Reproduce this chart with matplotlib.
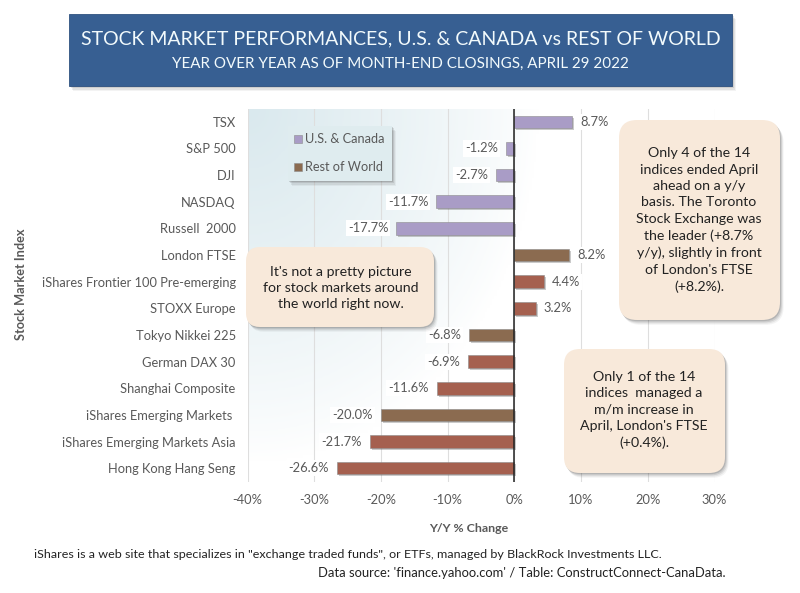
import numpy as np
import matplotlib
matplotlib.use("Agg")
import matplotlib.pyplot as plt
from matplotlib.patches import FancyBboxPatch, Rectangle
from matplotlib.colors import LinearSegmentedColormap
from matplotlib.transforms import Affine2D

plt.rcParams['font.family'] = ['Lato', 'DejaVu Sans']

indices = ["TSX", "S&P 500", "DJI", "NASDAQ", "Russell  2000", "London FTSE",
           "iShares Frontier 100 Pre-emerging", "STOXX Europe", "Tokyo Nikkei 225",
           "German DAX 30", "Shanghai Composite", "iShares Emerging Markets ",
           "iShares Emerging Markets Asia", "Hong Kong Hang Seng"]
yy_change = [8.7, -1.2, -2.7, -11.7, -17.7, 8.2, 4.4, 3.2, -6.8, -6.9, -11.6, -20.0, -21.7, -26.6]
x_ticks = [-40, -30, -20, -10, 0, 10, 20, 30]
title = "STOCK MARKET PERFORMANCES, U.S. & CANADA vs REST OF WORLD"
subtitle = "YEAR OVER YEAR AS OF MONTH-END CLOSINGS, APRIL 29 2022"
note1 = "It's not a pretty picture\nfor stock markets around\nthe world right now."
note2 = ("Only 4 of the 14\nindices ended April\nahead on a y/y\nbasis. The Toronto\nStock Exchange was\n"
         "the leader (+8.7%\ny/y), slightly in front\nof London's FTSE\n(+8.2%).")
note3 = "Only 1 of the 14\nindices  managed a\nm/m increase in\nApril, London's FTSE\n(+0.4%)."
foot1 = "iShares is a web site that specializes in \"exchange traded funds\", or ETFs, managed by BlackRock Investments LLC."
foot2 = "Data source: 'finance.yahoo.com' / Table: ConstructConnect-CanaData."

W, H = 800, 593
US_C, WORLD_C, WORLD_C2 = "#A99CC6", "#A5604F", "#8B6B50"
world_shades = [WORLD_C2, WORLD_C, WORLD_C, WORLD_C2, WORLD_C, WORLD_C, WORLD_C2, WORLD_C, WORLD_C]
colors = [US_C] * 5 + world_shades
TXT = "#595959"
LBL = 9.3

fig = plt.figure(figsize=(W / 100, H / 100), dpi=100, facecolor="white")
pix = Affine2D().scale(1 / W, 1 / H) + fig.transFigure


def fx(x):
    return x / W


def fy(y):
    return 1 - y / H


def rect_ax(x0, y0, x1, y1):
    return [fx(x0), fy(y1), (x1 - x0) / W, (y1 - y0) / H]


def box(x0, y0, x1, y1, face, rad=0, shadow=True, z=5, edge="none"):
    """Box given in picture pixels, with a soft drop shadow."""
    style = f"round,pad=0,rounding_size={rad}" if rad else "square,pad=0"
    if shadow:
        for i, a in zip((6, 4.5, 3, 1.5), (0.06, 0.09, 0.13, 0.18)):
            fig.add_artist(FancyBboxPatch((x0 + i * .6, H - y1 - i * .8), x1 - x0, y1 - y0, boxstyle=style,
                                          transform=pix, fc="#404040", ec="none", alpha=a, zorder=z - 1))
    fig.add_artist(FancyBboxPatch((x0, H - y1), x1 - x0, y1 - y0, boxstyle=style,
                                  transform=pix, fc=face, ec=edge, lw=0.6, zorder=z))


# plot area
ax = fig.add_axes(rect_ax(247.5, 108.5, 714.5, 481.5))
for s in ax.spines.values():
    s.set_visible(False)
ax.patch.set_alpha(0)

# gradient fill: pale blue from the upper left, fading to white
gy, gx = np.mgrid[0:1:120j, 0:1:200j]
fade = np.clip(1 - np.hypot(gx / 0.62, gy / 0.95), 0, 1) ** 0.8
cmap = LinearSegmentedColormap.from_list("bg", ["#FFFFFF", "#DAE9EE"])
ax.imshow(fade, extent=(-40, 30, len(indices) - 0.5, -0.5), aspect="auto", cmap=cmap,
          vmin=0, vmax=1, zorder=0)
ax.set_xlim(-40, 30)
ax.set_ylim(len(indices) - 0.5, -0.5)

ax.set_xticks(x_ticks)
ax.set_xticklabels([f"{t}%" for t in x_ticks], fontsize=LBL, color=TXT)
ax.set_yticks(range(len(indices)))
ax.set_yticklabels(indices, fontsize=LBL, color=TXT)
ax.tick_params(length=0, axis="y", pad=8.5)
ax.tick_params(length=0, axis="x", pad=9)
ax.grid(axis="x", color="#DEDEDE", lw=0.8, zorder=1)
ax.set_axisbelow(True)

ypos = np.arange(len(indices))
# bar shadows, shifted a little to the right and down
shadow_tf = ax.transData + Affine2D().translate(2, -2)
ax.barh(ypos, yy_change, height=0.47, color="#505050", alpha=0.3, zorder=2,
        linewidth=0, transform=shadow_tf)
ax.barh(ypos, yy_change, height=0.47, color=colors, edgecolor="#8C8C8C", linewidth=0.4, zorder=3)
ax.axvline(0, color="#222222", lw=1.1, zorder=4)

for y, v in zip(ypos, yy_change):
    off = 8 if v > 0 else -8
    ax.annotate(f"{v:.1f}%", (v, y), xytext=(off, 0), textcoords="offset pixels",
                ha="left" if v > 0 else "right", va="center", fontsize=LBL, color=TXT, zorder=4,
                bbox=dict(fc="white", ec="none", pad=1.5))

fig.text(fx(21), fy(284), "Stock Market Index", rotation=90, ha="center", va="center",
         fontsize=9.2, fontweight="bold", color=TXT)
fig.text(fx(469), fy(528), "Y/Y % Change", ha="center", va="center", fontsize=8.9,
         fontweight="bold", color=TXT)

# header
box(69, 14, 732, 86, "#375F92", shadow=True, edge="#2F5280")
fig.text(fx(400.5), fy(39), title, ha="center", va="center", fontsize=14, color="#F2FAFC", zorder=6)
fig.text(fx(400.5), fy(64), subtitle, ha="center", va="center", fontsize=10.9, color="#F2FAFC", zorder=6)

# legend
box(288, 126, 392, 181, "#DFECEF", z=5)
for yc, name, c in ((139, "U.S. & Canada", US_C), (167, "Rest of World", WORLD_C2)):
    fig.add_artist(Rectangle((294, H - yc - 4), 8, 8, transform=pix, fc=c, ec="#8C8C8C", lw=0.4, zorder=6))
    fig.text(fx(305), fy(yc), name, ha="left", va="center", fontsize=9.2, color=TXT, zorder=6)

# call-outs
NOTE_C = "#F8E9DA"
NOTE_FS = 10.2
NOTE_LS = 1.44
box(246, 247, 434, 327, NOTE_C, rad=14)
fig.text(fx(341), fy(288), note1, ha="center", va="center", fontsize=NOTE_FS, color="#222222",
         linespacing=NOTE_LS, zorder=6)
box(619, 120, 780, 320, NOTE_C, rad=18)
fig.text(fx(699), fy(220), note2, ha="center", va="center", fontsize=NOTE_FS, color="#222222",
         linespacing=NOTE_LS, zorder=6)
box(564, 349, 725, 473, NOTE_C, rad=16)
fig.text(fx(644), fy(410), note3, ha="center", va="center", fontsize=NOTE_FS, color="#222222",
         linespacing=NOTE_LS, zorder=6)

fig.text(fx(34), fy(555), foot1, ha="left", va="center", fontsize=8.97, color="#222222")
fig.text(fx(318), fy(573), foot2, ha="left", va="center", fontsize=9.33, color="#222222")

fig.savefig("out.png", dpi=100, facecolor="white")
